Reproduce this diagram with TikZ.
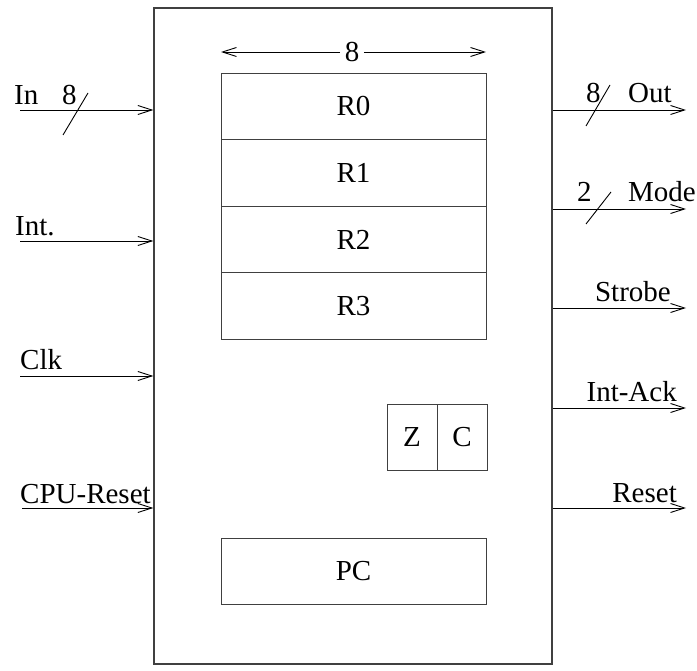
\documentclass[tikz,border=0pt]{standalone}
\usepackage{fontspec}
\setmainfont{Liberation Serif}
\usetikzlibrary{arrows.meta}
\begin{document}
\begin{tikzpicture}[x=1pt,y=-1pt,
  box/.style={draw=black!75,line width=1pt,inner sep=0pt,font=\fontsize{29}{31}\selectfont},
  sig/.style={draw=black,line width=0.9pt,-{Straight Barb[length=14pt,width=9pt,line width=0.9pt]}},
  lbl/.style={inner sep=0pt,font=\fontsize{29}{31}\selectfont},
  bus/.style={draw=black,line width=0.9pt}]
\useasboundingbox (0,0) rectangle (697,671);
% main box
\node[box,line width=1.3pt,minimum width=398pt,minimum height=656pt] (cpu) at (353,336) {};
% registers
\node[box,minimum width=265pt,minimum height=66.5pt] (r0) at (353.5,106.5) {R0};
\node[box,minimum width=265pt,minimum height=66.5pt] (r1) at (353.5,173) {R1};
\node[box,minimum width=265pt,minimum height=66.5pt] (r2) at (353.5,239.5) {R2};
\node[box,minimum width=265pt,minimum height=66.5pt] (r3) at (353.5,306) {R3};
% flags
\node[box,minimum width=50pt,minimum height=65pt] (z) at (412,437.5) {Z};
\node[box,minimum width=50pt,minimum height=65pt] (c) at (462,437.5) {C};
% PC
\node[box,minimum width=265pt,minimum height=66pt] (pc) at (353.5,571) {PC};
% width arrow
\coordinate (w1) at (221,52);
\coordinate (w2) at (486,52);
\node[lbl,inner xsep=4.5pt] (w8) at (352,52) {8};
\draw[sig] (w8.west) -- (w1);
\draw[sig] (w8.east) -- (w2);
% inputs
\coordinate (inA) at (20,110);
\coordinate (intA) at (20,241);
\coordinate (clkA) at (20,376);
\coordinate (rstA) at (22,508);
\draw[sig] (inA) -- (inA -| cpu.west);
\draw[sig] (intA) -- (intA -| cpu.west);
\draw[sig] (clkA) -- (clkA -| cpu.west);
\draw[sig] (rstA) -- (rstA -| cpu.west);
\node[lbl,anchor=base west] (inL) at (14,105) {In};
\node[lbl,anchor=base west] (inW) at (62,105) {8};
\draw[bus] (63,135) -- (88,93);
\node[lbl,anchor=base west] (intL) at (15,236) {Int.};
\node[lbl,anchor=base west] (clkL) at (20,370) {Clk};
\node[lbl,anchor=base west] (rstL) at (20,503) {CPU-Reset};
% outputs
\coordinate (outB) at (686,110);
\coordinate (modeB) at (686,209);
\coordinate (strB) at (686,308);
\coordinate (ackB) at (686,408);
\coordinate (resB) at (686,508);
\draw[sig] (outB -| cpu.east) -- (outB);
\draw[sig] (modeB -| cpu.east) -- (modeB);
\draw[sig] (strB -| cpu.east) -- (strB);
\draw[sig] (ackB -| cpu.east) -- (ackB);
\draw[sig] (resB -| cpu.east) -- (resB);
\node[lbl,anchor=base west] (outW) at (586,103) {8};
\draw[bus] (586,126) -- (610,85);
\node[lbl,anchor=base west] (outL) at (628,103) {Out};
\node[lbl,anchor=base west] (modeW) at (577,202) {2};
\draw[bus] (586,224) -- (611,192);
\node[lbl,anchor=base west] (modeL) at (628,202) {Mode};
\node[lbl,anchor=base east] (strL) at (671,302) {Strobe};
\node[lbl,anchor=base east] (ackL) at (677,402) {Int-Ack};
\node[lbl,anchor=base east] (resL) at (677,502) {Reset};
\end{tikzpicture}
\end{document}
